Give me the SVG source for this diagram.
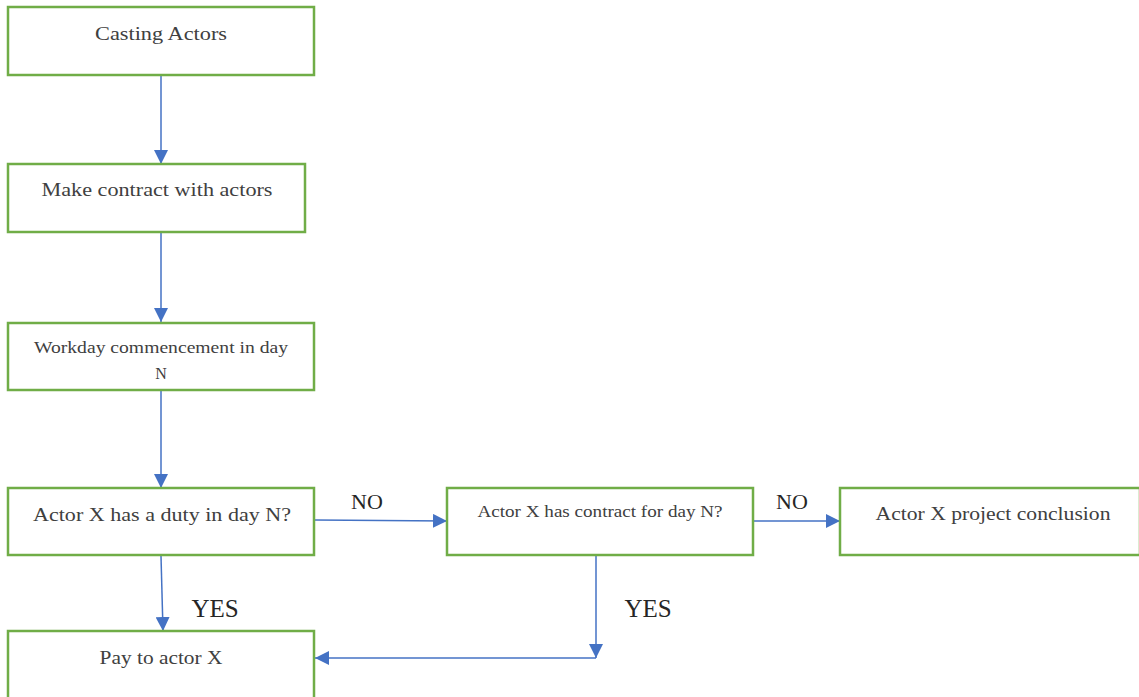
<svg xmlns="http://www.w3.org/2000/svg" width="1139" height="697" viewBox="0 0 1139 697">
<style>
.box{fill:#fff;stroke:#70AD47;stroke-width:2.5}
.t{font-family:"Liberation Serif","DejaVu Serif",serif;font-size:19px;fill:#404040;text-anchor:middle}
.s{font-size:16px}
.lbl{font-family:"Liberation Serif","DejaVu Serif",serif;font-size:22px;fill:#262626;text-anchor:middle}
.y{font-size:25px}
.c{fill:none;stroke:#4472C4;stroke-width:1.5}
</style>
<defs>
<marker id="b" markerWidth="14" markerHeight="14" viewBox="0 0 14 14" refX="14" refY="7" orient="auto" markerUnits="userSpaceOnUse">
<path d="M0,0 L14,7 L0,14 Z" fill="#4472C4"/>
</marker>
</defs>
<rect width="1139" height="697" fill="#fff"/>
<g id="connectors">
<line class="c" x1="161" y1="76" x2="161" y2="164" marker-end="url(#b)"/>
<line class="c" x1="161" y1="233" x2="161" y2="322" marker-end="url(#b)"/>
<line class="c" x1="161" y1="391" x2="161" y2="488" marker-end="url(#b)"/>
<line class="c" x1="315" y1="520" x2="447" y2="521" marker-end="url(#b)"/>
<line class="c" x1="754" y1="521" x2="840" y2="521" marker-end="url(#b)"/>
<line class="c" x1="161" y1="556" x2="163" y2="631" marker-end="url(#b)"/>
<line class="c" x1="596" y1="556" x2="596" y2="658" marker-end="url(#b)"/>
<line class="c" x1="596" y1="658" x2="315" y2="658" marker-end="url(#b)"/>
<text class="lbl" x="367" y="509">NO</text>
<text class="lbl" x="792" y="509">NO</text>
<text class="lbl y" x="215" y="617">YES</text>
<text class="lbl y" x="648" y="617">YES</text>
</g>
<g id="n1"><rect class="box" x="8" y="7" width="306" height="68"/><text class="t" x="161" y="40" textLength="132" lengthAdjust="spacingAndGlyphs">Casting Actors</text></g>
<g id="n2"><rect class="box" x="8" y="164" width="297" height="68"/><text class="t" x="157" y="196" textLength="231" lengthAdjust="spacingAndGlyphs">Make contract with actors</text></g>
<g id="n3"><rect class="box" x="8" y="323" width="306" height="67"/><text class="t s" x="161" y="353" textLength="254" lengthAdjust="spacingAndGlyphs">Workday commencement in day</text><text class="t s" x="161" y="379">N</text></g>
<g id="n4"><rect class="box" x="8" y="488" width="306" height="67"/><text class="t" x="162" y="521" textLength="258" lengthAdjust="spacingAndGlyphs">Actor X has a duty in day N?</text></g>
<g id="n5"><rect class="box" x="447" y="488" width="306" height="67"/><text class="t s" x="600" y="517" textLength="245" lengthAdjust="spacingAndGlyphs">Actor X has contract for day N?</text></g>
<g id="n6"><rect class="box" x="840" y="488" width="300" height="67"/><text class="t" x="993" y="520" textLength="235" lengthAdjust="spacingAndGlyphs">Actor X project conclusion</text></g>
<g id="n7"><rect class="box" x="8" y="631" width="306" height="68"/><text class="t" x="161" y="664" textLength="123" lengthAdjust="spacingAndGlyphs">Pay to actor X</text></g>
</svg>
